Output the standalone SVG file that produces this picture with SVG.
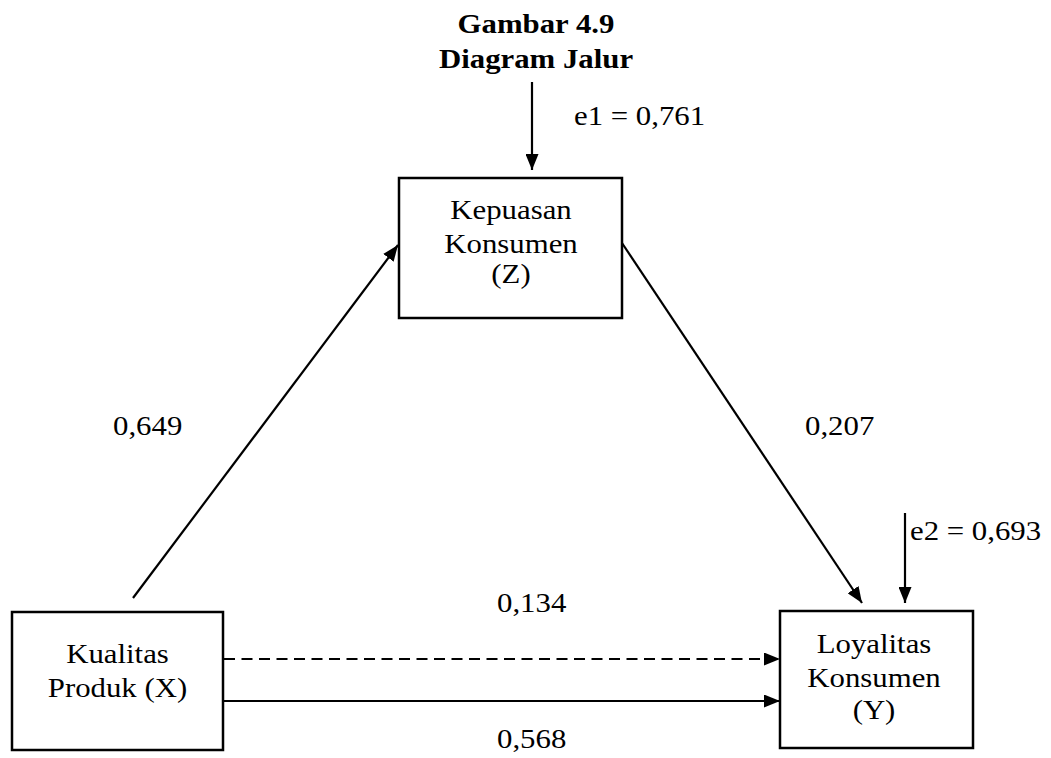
<svg xmlns="http://www.w3.org/2000/svg" width="1051" height="758" viewBox="0 0 1051 758">
<defs>
<style>
.box{fill:#fff;stroke:#000;stroke-width:2.5}
.t{font-family:"Liberation Serif","Times New Roman",Times,serif;font-size:28px;fill:#000}
.b{font-weight:bold}
.c{text-anchor:middle}
.ln{stroke:#000;stroke-width:2.2;fill:none;marker-end:url(#ah)}
.d{stroke-dasharray:11 6.5}
</style>
<marker id="ah" markerUnits="userSpaceOnUse" markerWidth="17" markerHeight="13" refX="16" refY="6.5" orient="auto">
<path d="M0,0 L16,6.5 L0,13 z" fill="#000"/>
</marker>
</defs>
<rect width="1051" height="758" fill="#fff"/>
<g id="title">
<text class="t b c" transform="matrix(1.1 0 0 1 536 33)">Gambar 4.9</text>
<text class="t b c" transform="matrix(1.1 0 0 1 536 68)">Diagram Jalur</text>
</g>
<g id="connectors">
<line class="ln" x1="532" y1="82" x2="532" y2="170"/>
<line class="ln" x1="905" y1="513" x2="905" y2="603"/>
<line class="ln" x1="133" y1="598" x2="398" y2="245"/>
<line class="ln" x1="622" y1="243" x2="862" y2="603"/>
<line class="ln d" x1="224" y1="659" x2="780" y2="659"/>
<line class="ln" x1="224" y1="701" x2="780" y2="701"/>
</g>
<g id="labels">
<text class="t" transform="matrix(1.1 0 0 1 574 125)">e1 = 0,761</text>
<text class="t" transform="matrix(1.1 0 0 1 910 540)">e2 = 0,693</text>
<text class="t" transform="matrix(1.1 0 0 1 113 435)">0,649</text>
<text class="t" transform="matrix(1.1 0 0 1 805 435)">0,207</text>
<text class="t" transform="matrix(1.1 0 0 1 497 612)">0,134</text>
<text class="t" transform="matrix(1.1 0 0 1 497 748)">0,568</text>
</g>
<g id="nodeZ">
<rect class="box" x="399" y="178" width="223" height="140"/>
<text class="t c" transform="matrix(1.1 0 0 1 511 219)">Kepuasan</text>
<text class="t c" transform="matrix(1.1 0 0 1 511 253)">Konsumen</text>
<text class="t c" transform="matrix(1.1 0 0 1 511 283)">(Z)</text>
</g>
<g id="nodeX">
<rect class="box" x="12" y="612" width="211" height="138"/>
<text class="t c" transform="matrix(1.1 0 0 1 117.5 663)">Kualitas</text>
<text class="t c" transform="matrix(1.1 0 0 1 117.5 697)">Produk (X)</text>
</g>
<g id="nodeY">
<rect class="box" x="780" y="611" width="193" height="137"/>
<text class="t c" transform="matrix(1.1 0 0 1 874 653)">Loyalitas</text>
<text class="t c" transform="matrix(1.1 0 0 1 874 687)">Konsumen</text>
<text class="t c" transform="matrix(1.1 0 0 1 874 719)">(Y)</text>
</g>
</svg>
